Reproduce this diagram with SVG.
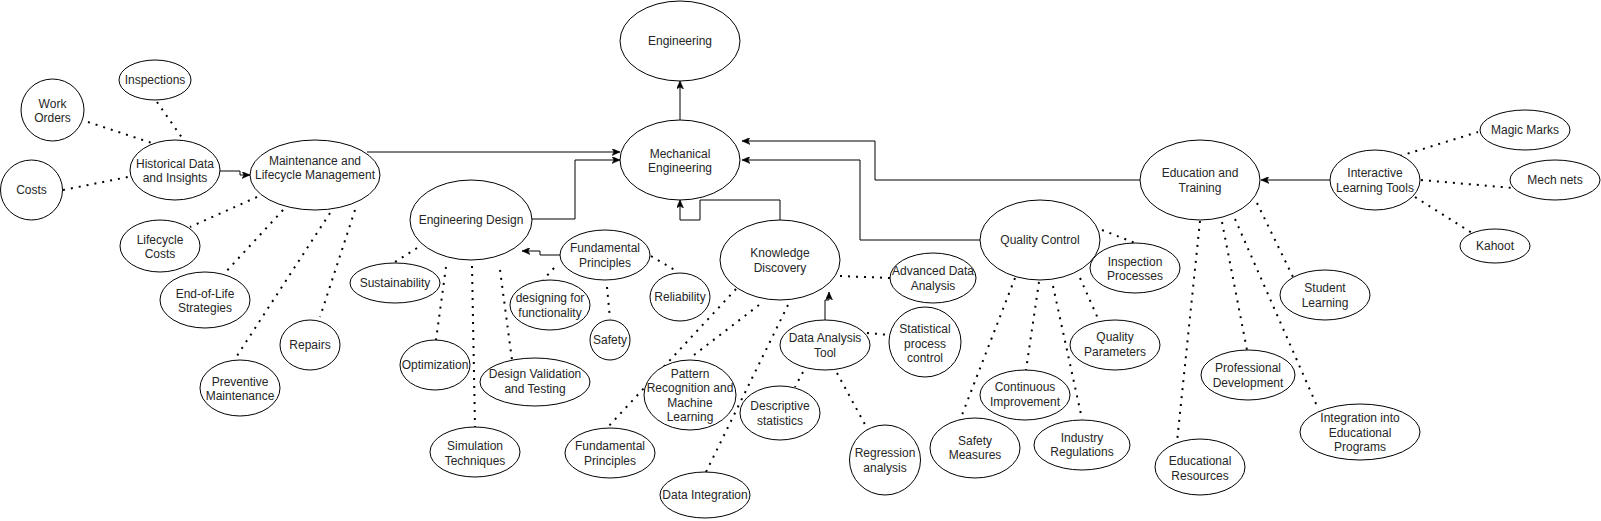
<svg xmlns="http://www.w3.org/2000/svg" width="1601" height="521" viewBox="0 0 1601 521">
<style>
.n ellipse{fill:#fff;stroke:#000;stroke-width:1}
.n text{font-family:"Liberation Sans",Arial,sans-serif;font-size:12px;text-anchor:middle;fill:#262626}
.a{fill:none;stroke:#000;stroke-width:1;marker-end:url(#arr)}
.d{fill:none;stroke:#000;stroke-width:2;stroke-dasharray:2 6}
</style>
<defs>
<marker id="arr" viewBox="0 0 8 7" refX="8" refY="3.5" markerWidth="8" markerHeight="7" markerUnits="userSpaceOnUse" orient="auto">
<path d="M0,0 L8,3.5 L0,7 L2,3.5 Z" fill="#000" stroke="#000" stroke-width="0.5"/>
</marker>
</defs>
<rect width="1601" height="521" fill="#fff"/>
<g id="connectors">
<path class="a" d="M680,120 V81"/>
<path class="a" d="M220,171 H240 V175 H250"/>
<path class="a" d="M367,152 H620"/>
<path class="a" d="M531,219 H575 V160 H620"/>
<path class="a" d="M560,255 H540 V251 H522"/>
<path class="a" d="M780,220 V200 H700 V220 H680 V200"/>
<path class="a" d="M825,320 V300 H829 V292"/>
<path class="a" d="M980,240 H860 V160 H742"/>
<path class="a" d="M1140,180 H875 V141 H742"/>
<path class="a" d="M1330,180 H1261"/>
<path class="d" d="M88,122 L158,145"/>
<path class="d" d="M157,102 L185,142"/>
<path class="d" d="M63,190 L128,177"/>
<path class="d" d="M257,197 L190,227"/>
<path class="d" d="M283,210 L223,275"/>
<path class="d" d="M330,213 L233,362"/>
<path class="d" d="M355,210 L320,317"/>
<path class="d" d="M417,248 L395,262"/>
<path class="d" d="M446,267 L436,340"/>
<path class="d" d="M472,266 L475,427"/>
<path class="d" d="M500,270 L512,360"/>
<path class="d" d="M554,268 L543,280"/>
<path class="d" d="M607,287 L610,319"/>
<path class="d" d="M651,256 L678,272"/>
<path class="d" d="M840,276 L890,278"/>
<path class="d" d="M736,289 L607,428"/>
<path class="d" d="M759,305 L694,355"/>
<path class="d" d="M788,305 L706,472"/>
<path class="d" d="M867,333 L890,335"/>
<path class="d" d="M803,372 L795,387"/>
<path class="d" d="M837,373 L868,430"/>
<path class="d" d="M1102,230 L1135,243"/>
<path class="d" d="M1080,278 L1100,323"/>
<path class="d" d="M1053,286 L1082,419"/>
<path class="d" d="M1039,282 L1026,370"/>
<path class="d" d="M1015,278 L960,420"/>
<path class="d" d="M1200,221 L1177,442"/>
<path class="d" d="M1222,222 L1247,350"/>
<path class="d" d="M1235,219 L1317,406"/>
<path class="d" d="M1257,203 L1293,277"/>
<path class="d" d="M1400,156 L1478,132"/>
<path class="d" d="M1421,180 L1513,188"/>
<path class="d" d="M1415,197 L1472,233"/>
</g>
<g id="engineering" class="n"><ellipse cx="680" cy="41" rx="60" ry="40"/><text x="680" y="45">Engineering</text></g>
<g id="mechanical-engineering" class="n"><ellipse cx="680" cy="160" rx="60" ry="40"/><text x="680" y="157.5">Mechanical</text><text x="680" y="172">Engineering</text></g>
<g id="historical-data" class="n"><ellipse cx="175" cy="170" rx="45" ry="30"/><text x="175" y="167.5">Historical Data</text><text x="175" y="182">and Insights</text></g>
<g id="maintenance" class="n"><ellipse cx="315" cy="175" rx="65" ry="35"/><text x="315" y="164.5">Maintenance and</text><text x="315" y="179">Lifecycle Management</text></g>
<g id="inspections" class="n"><ellipse cx="155" cy="80" rx="36" ry="20"/><text x="155" y="84">Inspections</text></g>
<g id="work-orders" class="n"><ellipse cx="52.5" cy="110" rx="31.5" ry="31"/><text x="52.5" y="107.5">Work</text><text x="52.5" y="122">Orders</text></g>
<g id="costs" class="n"><ellipse cx="31.5" cy="190" rx="31" ry="30"/><text x="31.5" y="194">Costs</text></g>
<g id="lifecycle-costs" class="n"><ellipse cx="160" cy="246" rx="40" ry="26"/><text x="160" y="243.5">Lifecycle</text><text x="160" y="258">Costs</text></g>
<g id="end-of-life" class="n"><ellipse cx="205" cy="300" rx="45" ry="28"/><text x="205" y="297.5">End-of-Life</text><text x="205" y="312">Strategies</text></g>
<g id="repairs" class="n"><ellipse cx="310" cy="345" rx="30" ry="25"/><text x="310" y="349">Repairs</text></g>
<g id="preventive-maintenance" class="n"><ellipse cx="240" cy="388" rx="40" ry="28"/><text x="240" y="385.5">Preventive</text><text x="240" y="400">Maintenance</text></g>
<g id="engineering-design" class="n"><ellipse cx="471" cy="220" rx="61" ry="40"/><text x="471" y="224">Engineering Design</text></g>
<g id="sustainability" class="n"><ellipse cx="395" cy="283" rx="45" ry="20"/><text x="395" y="287">Sustainability</text></g>
<g id="optimization" class="n"><ellipse cx="435" cy="365" rx="35" ry="25"/><text x="435" y="369">Optimization</text></g>
<g id="simulation-techniques" class="n"><ellipse cx="475" cy="452" rx="45" ry="25"/><text x="475" y="450">Simulation</text><text x="475" y="464.5">Techniques</text></g>
<g id="design-validation" class="n"><ellipse cx="535" cy="382" rx="55" ry="24"/><text x="535" y="378">Design Validation</text><text x="535" y="392.5">and Testing</text></g>
<g id="fundamental-principles-1" class="n"><ellipse cx="605" cy="255" rx="45" ry="25"/><text x="605" y="252">Fundamental</text><text x="605" y="266.5">Principles</text></g>
<g id="designing-functionality" class="n"><ellipse cx="550" cy="305" rx="40" ry="25"/><text x="550" y="302">designing for</text><text x="550" y="316.5">functionality</text></g>
<g id="safety" class="n"><ellipse cx="610" cy="340" rx="20" ry="20"/><text x="610" y="344">Safety</text></g>
<g id="reliability" class="n"><ellipse cx="680" cy="297" rx="30" ry="24"/><text x="680" y="301">Reliability</text></g>
<g id="knowledge-discovery" class="n"><ellipse cx="780" cy="260" rx="60" ry="40"/><text x="780" y="257">Knowledge</text><text x="780" y="271.5">Discovery</text></g>
<g id="fundamental-principles-2" class="n"><ellipse cx="610" cy="453" rx="45" ry="25"/><text x="610" y="450">Fundamental</text><text x="610" y="464.5">Principles</text></g>
<g id="pattern-recognition" class="n"><ellipse cx="690" cy="395" rx="46" ry="35"/><text x="690" y="377.5">Pattern</text><text x="690" y="392">Recognition and</text><text x="690" y="406.5">Machine</text><text x="690" y="421">Learning</text></g>
<g id="data-integration" class="n"><ellipse cx="705" cy="495" rx="45" ry="23"/><text x="705" y="499">Data Integration</text></g>
<g id="advanced-data-analysis" class="n"><ellipse cx="933" cy="278" rx="43" ry="25"/><text x="933" y="275">Advanced Data</text><text x="933" y="289.5">Analysis</text></g>
<g id="data-analysis-tool" class="n"><ellipse cx="825" cy="345" rx="45" ry="25"/><text x="825" y="342">Data Analysis</text><text x="825" y="356.5">Tool</text></g>
<g id="statistical-process-control" class="n"><ellipse cx="925" cy="342" rx="36" ry="35"/><text x="925" y="333">Statistical</text><text x="925" y="347.5">process</text><text x="925" y="362">control</text></g>
<g id="descriptive-statistics" class="n"><ellipse cx="780" cy="413" rx="40" ry="27"/><text x="780" y="410">Descriptive</text><text x="780" y="424.5">statistics</text></g>
<g id="regression-analysis" class="n"><ellipse cx="885" cy="460" rx="35.5" ry="35"/><text x="885" y="457">Regression</text><text x="885" y="471.5">analysis</text></g>
<g id="quality-control" class="n"><ellipse cx="1040" cy="240" rx="60" ry="40"/><text x="1040" y="244">Quality Control</text></g>
<g id="inspection-processes" class="n"><ellipse cx="1135" cy="268" rx="45" ry="25"/><text x="1135" y="265.5">Inspection</text><text x="1135" y="280">Processes</text></g>
<g id="quality-parameters" class="n"><ellipse cx="1115" cy="345" rx="45" ry="25"/><text x="1115" y="341">Quality</text><text x="1115" y="355.5">Parameters</text></g>
<g id="continuous-improvement" class="n"><ellipse cx="1025" cy="395" rx="45" ry="25"/><text x="1025" y="391">Continuous</text><text x="1025" y="405.5">Improvement</text></g>
<g id="safety-measures" class="n"><ellipse cx="975" cy="448" rx="45" ry="30"/><text x="975" y="444.5">Safety</text><text x="975" y="459">Measures</text></g>
<g id="industry-regulations" class="n"><ellipse cx="1082" cy="445" rx="48" ry="25"/><text x="1082" y="441.5">Industry</text><text x="1082" y="456">Regulations</text></g>
<g id="education-training" class="n"><ellipse cx="1200" cy="180" rx="60" ry="40"/><text x="1200" y="177">Education and</text><text x="1200" y="191.5">Training</text></g>
<g id="interactive-learning-tools" class="n"><ellipse cx="1375" cy="180" rx="45" ry="30"/><text x="1375" y="177">Interactive</text><text x="1375" y="191.5">Learning Tools</text></g>
<g id="magic-marks" class="n"><ellipse cx="1525" cy="130" rx="45" ry="20"/><text x="1525" y="134">Magic Marks</text></g>
<g id="mech-nets" class="n"><ellipse cx="1555" cy="180" rx="45" ry="20"/><text x="1555" y="184">Mech nets</text></g>
<g id="kahoot" class="n"><ellipse cx="1495" cy="246" rx="35" ry="17"/><text x="1495" y="249.5">Kahoot</text></g>
<g id="student-learning" class="n"><ellipse cx="1325" cy="295" rx="45" ry="25"/><text x="1325" y="292">Student</text><text x="1325" y="306.5">Learning</text></g>
<g id="professional-development" class="n"><ellipse cx="1248" cy="375" rx="47" ry="25"/><text x="1248" y="372">Professional</text><text x="1248" y="386.5">Development</text></g>
<g id="integration-educational-programs" class="n"><ellipse cx="1360" cy="432" rx="60" ry="28"/><text x="1360" y="422">Integration into</text><text x="1360" y="436.5">Educational</text><text x="1360" y="451">Programs</text></g>
<g id="educational-resources" class="n"><ellipse cx="1200" cy="467" rx="45" ry="28"/><text x="1200" y="465">Educational</text><text x="1200" y="479.5">Resources</text></g>
</svg>
